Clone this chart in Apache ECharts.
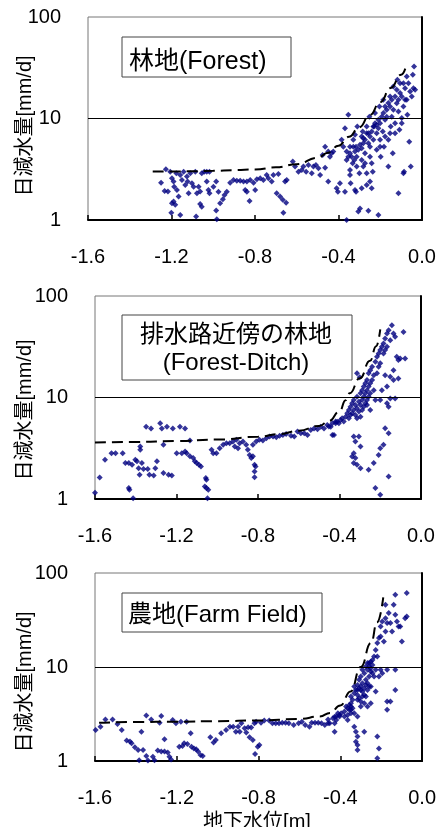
<!DOCTYPE html>
<html>
<head>
<meta charset="utf-8">
<script src="https://cdn.jsdelivr.net/npm/echarts@6/dist/echarts.min.js"></script>
<style>html,body{margin:0;padding:0;background:#fff;}#c{width:439px;height:827px;}</style>
</head>
<body>
<div id="c"></div>
<script>
// ---- data (x: groundwater level [m], y: daily water-level decrease [mm/d]) ----
const panelTitles = ['林地(Forest)', '排水路近傍の林地\n(Forest-Ditch)', '農地(Farm Field)'];
const yAxisTitle = '日減水量[mm/d]';
const xAxisTitle = '地下水位[m]';
const refLineValue = 10;

const forestPoints = [[-1.25,2.33],[-1.227,3.16],[-1.233,1.93],[-1.217,1.91],[-1.206,2.99],[-1.198,2.58],[-1.19,2.39],[-1.177,2.88],[-1.187,2.13],[-1.174,1.98],[-1.166,1.7],[-1.158,2.78],[-1.15,2.48],[-1.142,2.99],[-1.134,2.21],[-1.126,2.68],[-1.123,2.39],[-1.118,1.83],[-1.11,2.88],[-1.102,2.3],[-1.094,2.13],[-1.086,2.99],[-1.078,1.83],[-1.07,2.13],[-1.063,1.91],[-1.055,2.88],[-1.043,2.99],[-1.031,2.99],[-1.018,2.99],[-1.198,1.46],[-1.19,1.52],[-1.182,1.41],[-1.201,1.18],[-1.158,1.12],[-1.082,1.08],[-1.063,1.44],[-1.055,1.35],[-1.031,2.39],[-1.023,1.98],[-1.018,1.83],[-0.999,2.13],[-0.986,2.39],[-0.975,1.9],[-0.967,1.46],[-0.986,1.24],[-0.983,1.02],[-0.954,1.6],[-0.946,1.76],[-0.935,1.9],[-0.919,2.33],[-0.903,2.48],[-0.887,2.44],[-0.871,2.44],[-0.855,2.39],[-0.839,2.39],[-0.847,1.98],[-0.839,1.9],[-0.823,2.48],[-0.826,1.54],[-0.807,2.33],[-0.799,1.98],[-0.791,2.52],[-0.775,2.58],[-0.76,2.48],[-0.744,2.78],[-0.736,2.58],[-0.72,2.39],[-0.712,2.78],[-0.688,2.84],[-0.696,1.83],[-0.68,1.7],[-0.667,1.58],[-0.656,2.39],[-0.648,2.48],[-0.651,1.48],[-0.664,1.18],[-0.619,3.77],[-0.608,3.36],[-0.592,2.99],[-0.576,3.11],[-0.568,3.36],[-0.555,2.99],[-0.544,3.49],[-0.528,2.88],[-0.52,3.36],[-0.508,3.49],[-0.496,3.23],[-0.488,2.78],[-0.476,4.38],[-0.464,5.28],[-0.449,4.72],[-0.441,4.21],[-0.433,4.55],[-0.425,4.72],[-0.449,2.39],[-0.409,2.05],[-0.393,2.3],[-0.369,1.9],[-0.361,1.0],[-0.353,10.9],[-0.369,8.03],[-0.385,6.16],[-0.377,5.28],[-0.361,4.72],[-0.345,5.28],[-0.337,4.21],[-0.345,3.11],[-0.342,2.3],[-0.329,6.16],[-0.321,6.9],[-0.316,5.28],[-0.313,4.21],[-0.31,8.35],[-0.3,2.88],[-0.316,1.9],[-0.297,1.3],[-0.305,1.21],[-0.289,6.64],[-0.284,7.44],[-0.281,5.7],[-0.273,4.55],[-0.265,8.35],[-0.265,2.88],[-0.265,2.21],[-0.257,7.16],[-0.252,10.4],[-0.249,5.28],[-0.249,4.21],[-0.241,3.62],[-0.236,2.99],[-0.233,6.16],[-0.23,8.35],[-0.225,11.3],[-0.217,7.16],[-0.217,4.91],[-0.209,9.72],[-0.204,13.1],[-0.201,6.16],[-0.198,4.21],[-0.188,7.44],[-0.185,15.3],[-0.182,5.28],[-0.177,9.72],[-0.169,12.2],[-0.161,6.16],[-0.161,3.36],[-0.153,16.5],[-0.15,8.35],[-0.145,10.4],[-0.137,20.7],[-0.14,4.55],[-0.129,7.16],[-0.121,14.1],[-0.118,24.1],[-0.113,11.7],[-0.113,1.83],[-0.105,17.8],[-0.097,9.0],[-0.089,22.3],[-0.086,2.99],[-0.081,15.3],[-0.073,26.0],[-0.07,10.9],[-0.061,5.9],[-0.057,18.5],[-0.054,3.36],[-0.049,16.5],[-0.041,19.9],[-0.038,32.6],[-0.033,19.2],[-0.044,27.0],[-0.209,1.12],[-0.403,1.9],[-0.257,1.23],[-0.089,2.88],[-0.321,1.98],[-0.289,2.05],[-0.241,2.05],[-0.249,2.39],[-0.345,2.78],[-0.464,3.27],[-0.329,5.28],[-0.321,4.72],[-0.305,4.91],[-0.297,5.5],[-0.289,5.1],[-0.281,6.4],[-0.273,6.16],[-0.265,7.16],[-0.257,5.7],[-0.249,6.64],[-0.241,7.44],[-0.233,8.35],[-0.225,9.0],[-0.217,8.67],[-0.209,8.03],[-0.201,9.0],[-0.193,10.4],[-0.185,11.3],[-0.177,13.1],[-0.169,10.4],[-0.161,14.2],[-0.153,13.1],[-0.145,15.3],[-0.137,12.2],[-0.129,16.5],[-0.121,19.2],[-0.113,15.3],[-0.105,22.3],[-0.097,16.5],[-0.089,13.1],[-0.081,19.9],[-0.073,15.3],[-0.065,22.3],[-0.361,3.91],[-0.353,4.21],[-0.345,4.55],[-0.332,3.62],[-0.324,3.91],[-0.313,3.36],[-0.289,3.91],[-0.281,3.36],[-0.273,3.62],[-0.201,5.28],[-0.177,6.64],[-0.153,7.16],[-0.129,9.0],[-0.108,7.74],[-0.097,10.1]];

const ditchPoints = [[-1.6,1.15],[-1.577,1.63],[-1.551,2.43],[-1.519,2.83],[-1.499,2.83],[-1.464,2.83],[-1.451,2.26],[-1.434,2.26],[-1.434,1.28],[-1.431,1.23],[-1.413,1.02],[-1.418,2.17],[-1.402,2.43],[-1.394,2.35],[-1.386,2.01],[-1.378,3.29],[-1.378,3.05],[-1.381,1.73],[-1.37,2.26],[-1.362,1.98],[-1.349,5.16],[-1.341,1.98],[-1.333,1.73],[-1.325,4.96],[-1.312,1.7],[-1.304,2.01],[-1.296,2.35],[-1.28,5.58],[-1.272,4.96],[-1.264,3.42],[-1.264,1.8],[-1.247,5.16],[-1.239,1.73],[-1.223,1.7],[-1.218,4.96],[-1.199,2.83],[-1.183,5.16],[-1.174,2.83],[-1.158,4.96],[-1.158,2.94],[-1.15,2.83],[-1.134,3.76],[-1.134,2.63],[-1.118,2.53],[-1.11,2.35],[-1.101,2.26],[-1.09,2.17],[-1.08,2.09],[-1.056,1.61],[-1.053,1.55],[-1.061,1.33],[-1.053,1.28],[-1.044,1.23],[-1.048,1.02],[-1.028,3.05],[-1.02,2.83],[-1.004,2.83],[-0.988,3.17],[-0.971,3.42],[-0.955,3.55],[-0.939,3.55],[-0.923,3.69],[-0.906,3.83],[-0.914,3.29],[-0.898,3.17],[-0.89,3.55],[-0.874,3.69],[-0.858,3.42],[-0.85,3.05],[-0.841,2.72],[-0.833,2.53],[-0.825,2.63],[-0.817,2.17],[-0.812,2.09],[-0.817,1.87],[-0.817,1.64],[-0.825,3.42],[-0.809,3.69],[-0.793,3.83],[-0.776,3.76],[-0.759,3.97],[-0.743,4.12],[-0.726,4.12],[-0.71,4.05],[-0.694,4.19],[-0.678,4.28],[-0.662,4.38],[-0.638,4.19],[-0.622,4.12],[-0.606,4.62],[-0.59,4.44],[-0.573,4.44],[-0.557,4.28],[-0.541,4.79],[-0.525,4.96],[-0.508,4.87],[-0.492,5.16],[-0.476,4.96],[-0.46,5.37],[-0.443,5.16],[-0.435,4.28],[-0.419,5.58],[-0.411,5.78],[-0.452,5.17],[-0.435,5.57],[-0.419,5.79],[-0.403,5.57],[-0.395,6.01],[-0.387,6.24],[-0.379,5.79],[-0.37,6.48],[-0.362,7.0],[-0.354,7.54],[-0.354,6.24],[-0.346,8.13],[-0.346,6.73],[-0.338,8.76],[-0.338,7.0],[-0.33,9.45],[-0.33,7.54],[-0.322,8.44],[-0.322,6.73],[-0.314,10.2],[-0.314,7.83],[-0.314,6.24],[-0.305,9.1],[-0.305,7.27],[-0.297,11.0],[-0.297,8.44],[-0.297,6.48],[-0.289,11.8],[-0.289,9.45],[-0.289,7.54],[-0.281,12.8],[-0.281,10.2],[-0.281,8.13],[-0.273,13.8],[-0.273,11.0],[-0.273,8.76],[-0.265,14.9],[-0.265,11.8],[-0.265,9.45],[-0.257,17.3],[-0.257,12.8],[-0.257,10.2],[-0.249,18.6],[-0.249,13.8],[-0.249,11.0],[-0.24,20.1],[-0.24,14.9],[-0.232,11.8],[-0.232,16.6],[-0.224,22.5],[-0.224,9.45],[-0.216,25.2],[-0.216,17.3],[-0.208,27.1],[-0.208,20.1],[-0.2,29.3],[-0.2,21.7],[-0.192,31.6],[-0.184,34.0],[-0.184,27.1],[-0.176,38.1],[-0.176,29.3],[-0.167,42.7],[-0.167,31.6],[-0.159,46.0],[-0.151,36.7],[-0.143,51.5],[-0.135,42.7],[-0.127,39.6],[-0.119,25.2],[-0.111,23.4],[-0.102,24.2],[-0.086,44.3],[-0.078,24.2],[-0.135,18.6],[-0.167,12.8],[-0.151,9.8],[-0.2,9.45],[-0.176,16.6],[-0.151,16.0],[-0.135,14.9],[-0.111,15.4],[-0.127,9.8],[-0.314,17.3],[-0.301,15.8],[-0.192,11.8],[-0.167,8.76],[-0.159,8.13],[-0.249,7.54],[-0.265,8.44],[-0.33,4.12],[-0.322,3.68],[-0.297,3.29],[-0.33,2.83],[-0.322,2.53],[-0.33,2.26],[-0.314,2.17],[-0.297,2.01],[-0.257,1.94],[-0.232,2.26],[-0.208,2.72],[-0.2,3.17],[-0.184,3.42],[-0.176,4.98],[-0.159,4.45],[-0.159,1.67],[-0.224,1.28],[-0.2,1.1],[-0.427,4.28],[-0.338,2.62],[-0.305,4.12]];

const farmPoints = [[-1.597,2.14],[-1.573,2.32],[-1.549,2.77],[-1.514,2.77],[-1.49,2.47],[-1.469,2.14],[-1.445,1.65],[-1.429,1.61],[-1.421,1.54],[-1.405,1.4],[-1.389,1.31],[-1.384,1.02],[-1.373,2.05],[-1.365,1.31],[-1.349,3.04],[-1.349,1.13],[-1.341,1.01],[-1.325,2.77],[-1.317,1.11],[-1.309,1.02],[-1.293,1.29],[-1.284,2.56],[-1.276,3.02],[-1.276,1.26],[-1.26,1.7],[-1.26,1.26],[-1.244,1.23],[-1.236,1.11],[-1.228,1.04],[-1.22,2.73],[-1.204,2.52],[-1.188,1.42],[-1.18,2.62],[-1.172,1.44],[-1.164,1.54],[-1.152,2.62],[-1.148,1.52],[-1.132,1.97],[-1.128,1.42],[-1.116,1.36],[-1.105,1.33],[-1.096,1.26],[-1.084,1.16],[-1.073,1.13],[-1.036,1.79],[-1.02,1.57],[-1.009,1.67],[-0.983,1.97],[-0.959,2.14],[-0.94,2.32],[-0.924,2.32],[-0.911,2.05],[-0.9,2.32],[-0.892,2.05],[-0.884,2.52],[-0.868,2.23],[-0.86,2.01],[-0.851,2.29],[-0.844,1.79],[-0.836,2.27],[-0.828,1.67],[-0.817,1.19],[-0.804,1.42],[-0.796,1.48],[-0.82,2.52],[-0.812,2.62],[-0.788,2.56],[-0.772,2.69],[-0.748,2.69],[-0.732,2.52],[-0.716,2.52],[-0.7,2.52],[-0.684,2.56],[-0.668,2.56],[-0.652,2.52],[-0.628,2.42],[-0.604,2.52],[-0.588,2.62],[-0.572,2.42],[-0.551,2.32],[-0.54,2.56],[-0.524,2.56],[-0.508,2.56],[-0.492,2.52],[-0.476,2.42],[-0.46,2.77],[-0.452,2.52],[-0.428,2.05],[-0.428,2.96],[-0.42,2.73],[-0.404,3.09],[-0.46,2.52],[-0.436,2.85],[-0.42,2.97],[-0.404,2.97],[-0.396,3.22],[-0.38,3.36],[-0.372,3.79],[-0.364,3.64],[-0.356,3.95],[-0.348,4.12],[-0.34,4.47],[-0.348,4.85],[-0.332,5.26],[-0.324,5.71],[-0.332,6.2],[-0.316,6.45],[-0.308,7.3],[-0.316,5.05],[-0.3,5.71],[-0.3,7.92],[-0.292,9.33],[-0.292,6.72],[-0.283,8.59],[-0.275,10.1],[-0.267,9.33],[-0.275,7.3],[-0.259,11.0],[-0.267,6.72],[-0.259,7.92],[-0.251,9.72],[-0.251,6.2],[-0.243,11.9],[-0.243,8.59],[-0.235,12.9],[-0.235,7.92],[-0.227,15.2],[-0.227,9.33],[-0.219,18.0],[-0.211,20.3],[-0.219,12.9],[-0.203,21.1],[-0.203,27.0],[-0.195,30.5],[-0.187,18.7],[-0.179,33.1],[-0.171,29.3],[-0.179,23.9],[-0.163,37.5],[-0.155,29.3],[-0.147,23.9],[-0.139,46.0],[-0.131,36.0],[-0.123,30.5],[-0.115,27.0],[-0.099,18.7],[-0.083,33.1],[-0.075,61.2],[-0.131,58.8],[-0.179,46.0],[-0.348,3.5],[-0.332,3.22],[-0.316,2.97],[-0.3,3.79],[-0.283,4.12],[-0.364,2.73],[-0.38,2.97],[-0.275,4.85],[-0.267,3.79],[-0.251,4.12],[-0.227,5.48],[-0.211,7.92],[-0.203,9.33],[-0.195,8.59],[-0.171,9.33],[-0.131,9.33],[-0.131,5.71],[-0.171,4.29],[-0.155,4.29],[-0.171,3.5],[-0.332,2.32],[-0.324,2.05],[-0.316,1.82],[-0.324,1.6],[-0.316,1.48],[-0.316,1.31],[-0.283,2.05],[-0.219,1.82],[-0.211,1.36],[-0.219,1.07],[-0.428,2.52],[-0.412,3.22],[-0.316,5.71],[-0.308,5.95],[-0.3,6.2],[-0.292,5.48],[-0.283,5.95],[-0.275,6.45],[-0.267,5.71],[-0.259,6.2],[-0.316,4.47],[-0.308,4.65],[-0.3,4.29],[-0.292,4.85],[-0.283,5.05],[-0.348,3.79],[-0.34,3.64],[-0.356,3.5],[-0.364,3.09],[-0.348,3.22],[-0.267,11.0],[-0.259,10.1],[-0.251,8.95],[-0.251,11.4],[-0.243,10.5],[-0.075,34.5],[-0.107,27.0]];

const forestCurve = [[-1.29,3.0],[-1.2,3.0],[-1.1,3.02],[-1.0,3.05],[-0.9,3.1],[-0.8,3.15],[-0.7,3.3],[-0.6,3.55],[-0.5,4.1],[-0.45,4.6],[-0.4,5.4],[-0.35,6.6],[-0.3,8.2],[-0.25,10.8],[-0.2,14.5],[-0.15,20],[-0.1,27],[-0.08,31]];
const ditchCurve = [[-1.6,3.6],[-1.4,3.65],[-1.2,3.72],[-1.0,3.85],[-0.8,4.1],[-0.7,4.35],[-0.6,4.7],[-0.5,5.25],[-0.45,5.9],[-0.4,7.3],[-0.37,9.4],[-0.35,11],[-0.3,15.5],[-0.25,23],[-0.22,32],[-0.2,47]];
const farmCurve = [[-1.58,2.55],[-1.4,2.6],[-1.2,2.62],[-1.0,2.65],[-0.8,2.7],[-0.6,2.8],[-0.5,2.98],[-0.45,3.25],[-0.4,3.9],[-0.35,5.5],[-0.3,10],[-0.25,18],[-0.22,30],[-0.19,55]];

const pointSets = [forestPoints, ditchPoints, farmPoints];
const curveSets = [forestCurve, ditchCurve, farmCurve];

// ---- layout / style ----
const FONT = "'Liberation Sans', Arial, 'Noto Sans CJK JP', sans-serif";
const grids = [
  {left: 88, top: 17, width: 334, height: 203},
  {left: 95, top: 296, width: 326, height: 203},
  {left: 95, top: 573, width: 331, height: 188}
];

const chart = echarts.init(document.getElementById('c'), null, {renderer: 'canvas'});

const option = {
  animation: false,
  backgroundColor: '#fff',
  grid: grids.map(g => Object.assign({show: true, borderColor: '#777', borderWidth: 1, containLabel: false}, g)),
  xAxis: grids.map((g, i) => ({
    gridIndex: i, type: 'value', min: -1.6, max: 0, interval: 0.4,
    axisLine: {onZero: false, lineStyle: {color: '#000', width: 2}},
    axisTick: {show: true, inside: true, length: 5, lineStyle: {color: '#000', width: 1.5}},
    axisLabel: {margin: 27, fontSize: 20, color: '#000', fontFamily: FONT, formatter: v => v.toFixed(1), showMinLabel: true, showMaxLabel: true},
    splitLine: {show: false}
  })),
  yAxis: grids.map((g, i) => ({
    gridIndex: i, type: 'log', logBase: 10, min: 1, max: 100,
    axisLine: {show: true, lineStyle: {color: '#000', width: 2}},
    axisTick: {show: false},
    axisLabel: {margin: 27, fontSize: 20, color: '#000', fontFamily: FONT},
    splitLine: {show: false}
  })),
  series: [],
  graphic: []
};

pointSets.forEach((pts, i) => {
  option.series.push({
    type: 'scatter', xAxisIndex: i, yAxisIndex: i, data: pts,
    symbol: 'diamond', symbolSize: 6,
    itemStyle: {color: '#000080'}, z: 2, silent: true
  });
  option.series.push({
    type: 'line', xAxisIndex: i, yAxisIndex: i, data: curveSets[i],
    showSymbol: false, smooth: true, smoothMonotone: 'x',
    lineStyle: {color: '#000', width: 2, type: [11, 6]}, z: 3, silent: true,
    markLine: {
      silent: true, symbol: 'none', animation: false,
      label: {show: false},
      lineStyle: {color: '#000', width: 1, type: 'solid'},
      data: [{yAxis: refLineValue}]
    }
  });
});

const txt = (x, y, text, size, align, extra) => Object.assign({
  type: 'text', x: x, y: y, z: 20,
  style: {text: text, fontSize: size, fontFamily: FONT, fill: '#000',
          align: align, verticalAlign: 'middle', textAlign: align, textVerticalAlign: 'middle', lineHeight: 28}
}, extra || {});

option.graphic = [
  {type: 'rect', z: 19, shape: {x: 122, y: 37, width: 169, height: 40}, style: {fill: '#fff', stroke: '#444', lineWidth: 1}},
  txt(129, 62, panelTitles[0], 25, 'left'),
  {type: 'rect', z: 19, shape: {x: 122, y: 315, width: 230, height: 65}, style: {fill: '#fff', stroke: '#444', lineWidth: 1}},
  txt(236, 349, panelTitles[1], 24, 'center'),
  {type: 'rect', z: 19, shape: {x: 122, y: 593, width: 200, height: 39}, style: {fill: '#fff', stroke: '#444', lineWidth: 1}},
  txt(128, 615, panelTitles[2], 24, 'left'),
  txt(25, 126, yAxisTitle, 20, 'center', {rotation: Math.PI / 2}),
  txt(25, 410, yAxisTitle, 20, 'center', {rotation: Math.PI / 2}),
  txt(25, 682, yAxisTitle, 20, 'center', {rotation: Math.PI / 2}),
  txt(257, 822, xAxisTitle, 20, 'center')
];

chart.setOption(option);
</script>
</body>
</html>
